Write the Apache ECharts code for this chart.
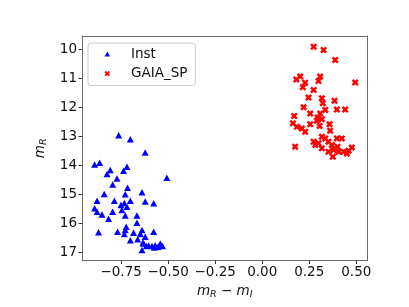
<!DOCTYPE html>
<html>
<head>
<meta charset="utf-8">
<script src="https://cdn.jsdelivr.net/npm/echarts@6/dist/echarts.min.js"></script>
<style>html,body{margin:0;padding:0;background:#fff}#c{width:409px;height:307px}</style>
</head>
<body>
<div id="c"></div>
<script>
const instX = [-0.763,-0.701,-0.622,-0.891,-0.864,-0.808,-0.825,-0.719,-0.737,-0.772,-0.507,-0.795,-0.716,-0.878,-0.840,-0.786,-0.728,-0.639,-0.891,-0.878,-0.852,-0.817,-0.795,-0.751,-0.733,-0.719,-0.701,-0.746,-0.728,-0.666,-0.622,-0.577,-0.870,-0.666,-0.769,-0.728,-0.723,-0.733,-0.701,-0.684,-0.662,-0.648,-0.639,-0.622,-0.631,-0.639,-0.616,-0.577,-0.586,-0.569,-0.542,-0.530,-0.554,-0.574,-0.604,-0.634];
const instY = [12.96,13.10,13.56,13.97,13.91,14.16,14.30,14.05,14.19,14.45,14.43,14.66,14.77,15.22,14.99,15.22,15.00,14.93,15.48,15.60,15.69,15.84,15.60,15.37,15.30,15.43,15.22,15.54,15.73,15.73,15.25,15.31,16.31,15.98,16.29,16.23,16.12,16.37,16.58,16.32,16.55,16.37,16.23,16.46,16.69,16.92,16.78,16.29,16.78,16.75,16.69,16.78,16.81,16.83,16.76,16.66];
const gaiaX = [0.273,0.326,0.388,0.494,0.181,0.202,0.228,0.216,0.273,0.308,0.299,0.246,0.317,0.322,0.384,0.220,0.397,0.441,0.335,0.255,0.308,0.294,0.317,0.170,0.163,0.184,0.211,0.228,0.255,0.305,0.358,0.361,0.290,0.175,0.273,0.299,0.317,0.335,0.317,0.352,0.370,0.379,0.375,0.397,0.423,0.400,0.432,0.459,0.476,0.450,0.406,0.352,0.282];
const gaiaY = [9.91,10.02,10.37,11.14,11.04,10.94,11.15,11.31,11.40,10.94,11.09,11.66,11.69,11.86,11.77,12.00,12.07,12.07,12.09,12.21,12.21,12.35,12.41,12.30,12.55,12.67,12.73,12.84,12.58,12.64,12.58,12.81,12.46,13.36,13.19,13.24,13.01,13.07,13.41,13.19,13.30,13.47,13.70,13.07,13.07,13.36,13.53,13.50,13.38,13.59,13.53,13.53,13.30];
const xTicks = [-0.75,-0.5,-0.25,0,0.25,0.5];
const yTicks = [10,11,12,13,14,15,16,17];
const seriesNames = ['Inst','GAIA_SP'];

const FONT = 'DejaVu Sans';
const xPath = 'path://M2.5,0 L5,2.5 L7.5,0 L10,2.5 L7.5,5 L10,7.5 L7.5,10 L5,7.5 L2.5,10 L0,7.5 L2.5,5 L0,2.5 Z';
const triPath = 'path://M5,0 L10,9 L0,9 Z';
const zip = (a,b) => a.map((v,i)=>[v,b[i]]);
const fmt = v => (v < 0 ? '\u2212' : '') + Math.abs(v).toFixed(2);
const FRAME = '#6e6e6e';
const XMIN = -0.958, XMAX = 0.5595, YMIN = 9.54, YMAX = 17.28;

const chart = echarts.init(document.getElementById('c'), null, {renderer:'canvas'});
chart.setOption({
  animation:false,
  backgroundColor:'#fff',
  grid:{left:82, right:41.5, top:36, bottom:46.5},
  legend:{
    left:88, top:43, orient:'vertical',
    data:[{name:seriesNames[0], icon:triPath},{name:seriesNames[1], icon:xPath}],
    itemWidth:5.5, itemHeight:5.5, itemGap:5.5,
    padding:[4,8,5,16.5],
    formatter: n => '{t|' + n + '}',
    backgroundColor:'#fff', borderColor:'#cccccc', borderWidth:1, borderRadius:3,
    textStyle:{fontFamily:FONT, fontSize:13.5, color:'#111',
      rich:{t:{fontFamily:FONT, fontSize:13.5, color:'#111', padding:[0,0,0,16]}}}
  },
  xAxis:[{
    type:'value', min:XMIN, max:XMAX, position:'bottom',
    splitLine:{show:false},
    axisLine:{show:true, onZero:false, lineStyle:{color:FRAME, width:1}},
    axisTick:{show:true, customValues:xTicks, length:3.5, lineStyle:{color:'#333'}},
    axisLabel:{customValues:xTicks, formatter:fmt, fontFamily:FONT, fontSize:13.5, color:'#111', margin:5},
    name:'{m|m}{s|R}{o| \u2212 }{m|m}{s|I}',
    nameLocation:'middle', nameGap:22,
    nameTextStyle:{fontFamily:FONT, rich:{
      m:{fontFamily:FONT, fontStyle:'italic', fontSize:13.5, color:'#111'},
      s:{fontFamily:FONT, fontStyle:'italic', fontSize:9.5, color:'#111', padding:[7,0,0,0]},
      o:{fontFamily:FONT, fontSize:13.5, color:'#111'}
    }}
  },{
    type:'value', min:XMIN, max:XMAX, position:'top',
    splitLine:{show:false}, axisTick:{show:false}, axisLabel:{show:false},
    axisLine:{show:true, onZero:false, lineStyle:{color:FRAME, width:1}}
  }],
  yAxis:[{
    type:'value', min:YMIN, max:YMAX, inverse:true, position:'left',
    splitLine:{show:false},
    axisLine:{show:true, onZero:false, lineStyle:{color:FRAME, width:1}},
    axisTick:{show:true, customValues:yTicks, length:3.5, lineStyle:{color:'#333'}},
    axisLabel:{customValues:yTicks, fontFamily:FONT, fontSize:13.5, color:'#111', margin:5},
    name:'{m|m}{s|R}',
    nameLocation:'middle', nameGap:30, nameRotate:90,
    nameTextStyle:{fontFamily:FONT, rich:{
      m:{fontFamily:FONT, fontStyle:'italic', fontSize:13.5, color:'#111'},
      s:{fontFamily:FONT, fontStyle:'italic', fontSize:9.5, color:'#111', padding:[7,0,0,0]}
    }}
  },{
    type:'value', min:YMIN, max:YMAX, inverse:true, position:'right',
    splitLine:{show:false}, axisTick:{show:false}, axisLabel:{show:false},
    axisLine:{show:true, onZero:false, lineStyle:{color:FRAME, width:1}}
  }],
  series:[
    {name:seriesNames[0], type:'scatter', symbol:'triangle', symbolSize:[7,6.5], data:zip(instX,instY), itemStyle:{color:'#0000ff', opacity:1}},
    {name:seriesNames[1], type:'scatter', symbol:xPath, symbolSize:7, data:zip(gaiaX,gaiaY), itemStyle:{color:'#ff0000', opacity:1}}
  ]
});
</script>
</body>
</html>
